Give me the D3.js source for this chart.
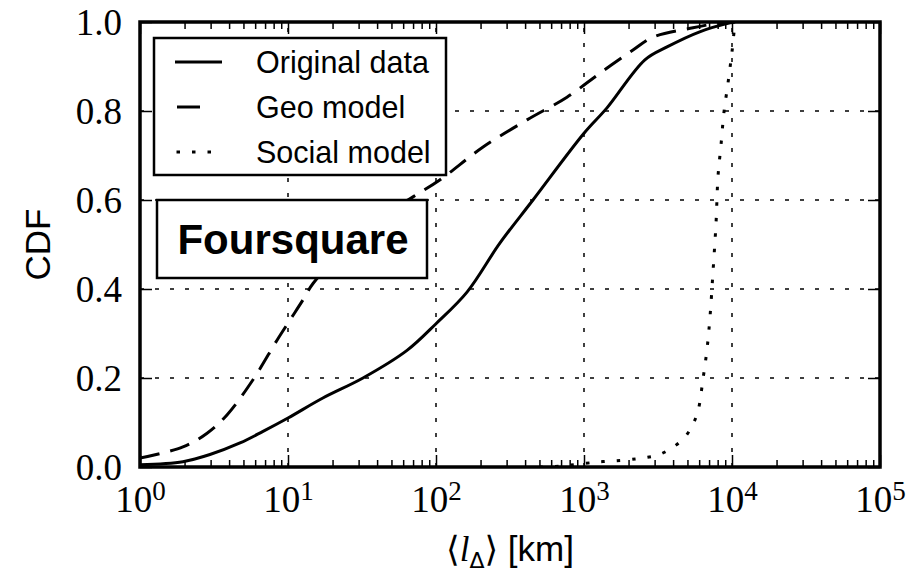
<!DOCTYPE html>
<html>
<head>
    <meta charset="utf-8">
    <title>CDF - Foursquare</title>
    <script src="https://d3js.org/d3.v7.min.js"></script>
    <style>
        body { margin: 0; background: #fff; }
    </style>
</head>
<body>
<div id="chart"></div>
<script>

    // valores: distancia media (km) e CDF
    const seriesNames = ["Original data", "Geo model", "Social model"];

    const originalX = [1, 1.95, 2.97, 4.74, 6.78, 10, 17.2, 32.1, 63.7, 100, 162, 270, 452, 1000, 1430, 2580, 3640, 6050, 9700, 10500];
    const originalY = [0.005, 0.012, 0.028, 0.054, 0.08, 0.11, 0.155, 0.2, 0.262, 0.322, 0.393, 0.503, 0.6, 0.75, 0.807, 0.915, 0.944, 0.978, 0.998, 1.0];

    const geoX = [1, 1.95, 2.84, 3.87, 5.8, 8.43, 10.3, 12.6, 14.8, 26.2, 41.9, 69.9, 106, 208, 412, 767, 1282, 2143, 2925, 5450, 8290, 10000];
    const geoY = [0.02, 0.045, 0.076, 0.117, 0.196, 0.285, 0.33, 0.375, 0.413, 0.5, 0.56, 0.607, 0.645, 0.719, 0.78, 0.831, 0.885, 0.937, 0.966, 0.987, 0.998, 1.0];

    const socialX = [500, 689, 1224, 1953, 2466, 3162, 3935, 4743, 5370, 5894, 6370, 6780, 7100, 7445, 7800, 8040, 8430, 8830, 9400, 10000, 10480, 10650];
    const socialY = [0, 0.002, 0.011, 0.016, 0.02, 0.027, 0.043, 0.065, 0.092, 0.126, 0.198, 0.265, 0.337, 0.44, 0.548, 0.652, 0.724, 0.798, 0.863, 0.933, 0.993, 1.0];

    const xMajor = [1, 10, 100, 1000, 10000, 100000];
    const xExp = ["0", "1", "2", "3", "4", "5"];
    const yMajor = [0, 0.2, 0.4, 0.6, 0.8, 1.0];

    let margin = {top: 22, right: 42, bottom: 105, left: 140};
    let W = 922, H = 572;
    let w = W - margin.left - margin.right;
    let h = H - margin.top - margin.bottom;

    let svg = d3.select("#chart")
        .append("svg")
            .attr("width", W)
            .attr("height", H)
        .append("g")
            .attr("transform", "translate(" + margin.left + "," + margin.top + ")");

    let xScale = d3.scaleLog().domain([1, 1e5]).range([0, w]);
    let yScale = d3.scaleLinear().domain([0, 1]).range([h, 0]);

    // minor ticks 2..9 de cada decada
    let xMinor = [];
    for (let e = 0; e < 5; e++) {
        for (let k = 2; k <= 9; k++) xMinor.push(k * Math.pow(10, e));
    }

    // grade pontilhada
    let grid = svg.append("g")
        .attr("stroke", "#000")
        .attr("stroke-width", 1.5)
        .attr("stroke-dasharray", "4,11");

    grid.selectAll("line.v")
        .data(xMajor.slice(1, -1))
        .enter().append("line")
        .attr("class", "v")
        .attr("x1", d => xScale(d)).attr("x2", d => xScale(d))
        .attr("y1", h).attr("y2", 0);

    grid.selectAll("line.h")
        .data(yMajor.slice(1, -1))
        .enter().append("line")
        .attr("class", "h")
        .attr("x1", 0).attr("x2", w)
        .attr("y1", d => yScale(d)).attr("y2", d => yScale(d));

    // curvas
    svg.append("clipPath").attr("id", "clip")
        .append("rect").attr("width", w).attr("height", h);

    let line = d3.line()
        .x(d => xScale(d[0]))
        .y(d => yScale(d[1]))
        .curve(d3.curveCatmullRom.alpha(0.5));

    let series = [
        {name: seriesNames[0], pts: d3.zip(originalX, originalY), dash: null},
        {name: seriesNames[1], pts: d3.zip(geoX, geoY), dash: "20,11"},
        {name: seriesNames[2], pts: d3.zip(socialX, socialY), dash: "3.5,12"}
    ];

    svg.append("g").attr("clip-path", "url(#clip)")
        .selectAll("path")
        .data(series)
        .enter().append("path")
        .attr("d", d => line(d.pts))
        .attr("fill", "none")
        .attr("stroke", "#000")
        .attr("stroke-width", 3)
        .attr("stroke-dasharray", d => d.dash);

    // eixos com ticks para dentro
    function clean(g) {
        g.select(".domain").remove();
        g.selectAll(".tick line").attr("stroke-width", 1.5);
    }

    svg.append("g")
        .attr("transform", "translate(0," + h + ")")
        .call(d3.axisBottom(xScale).tickValues(xMinor).tickSize(-7).tickFormat(""))
        .call(clean);
    svg.append("g")
        .call(d3.axisTop(xScale).tickValues(xMinor).tickSize(-7).tickFormat(""))
        .call(clean);
    svg.append("g")
        .call(d3.axisTop(xScale).tickValues(xMajor).tickSize(-12).tickFormat(""))
        .call(clean);
    svg.append("g")
        .attr("transform", "translate(" + w + ",0)")
        .call(d3.axisRight(yScale).tickValues(yMajor).tickSize(-12).tickFormat(""))
        .call(clean);

    let xAxisG = svg.append("g")
        .attr("transform", "translate(0," + h + ")")
        .call(d3.axisBottom(xScale).tickValues(xMajor).tickSize(-12).tickFormat(""))
        .call(clean);

    xAxisG.selectAll(".tick text").remove();
    xAxisG.selectAll(".tick").each(function(d, i) {
        let t = d3.select(this).append("text")
            .attr("y", 45)
            .attr("fill", "#000")
            .attr("text-anchor", "middle")
            .attr("font-family", "'Liberation Serif', serif")
            .attr("font-size", "37px");
        t.append("tspan").text("10");
        t.append("tspan").attr("font-size", "27px").attr("dy", -12).text(xExp[i]);
    });

    svg.append("g")
        .call(d3.axisLeft(yScale).tickValues(yMajor).tickSize(-12).tickPadding(18).tickFormat(d3.format(".1f")))
        .call(clean)
        .selectAll(".tick text")
            .attr("font-family", "'Liberation Serif', serif")
            .attr("font-size", "37px")
            .attr("fill", "#000")
            .attr("dy", "0.34em");

    // moldura
    svg.append("rect")
        .attr("width", w).attr("height", h)
        .attr("fill", "none")
        .attr("stroke", "#000")
        .attr("stroke-width", 3.5);

    // titulos dos eixos
    svg.append("text")
        .attr("transform", "rotate(-90)")
        .attr("x", -h / 2)
        .attr("y", -90)
        .attr("text-anchor", "middle")
        .attr("font-family", "'Liberation Sans', sans-serif")
        .attr("font-size", "35px")
        .text("CDF");

    let xl = svg.append("text")
        .attr("x", w / 2)
        .attr("y", h + 94)
        .attr("text-anchor", "middle")
        .attr("font-size", "35px");
    xl.append("tspan").attr("font-family", "'DejaVu Serif', serif").text("\u27E8");
    xl.append("tspan").attr("font-family", "'Liberation Serif', serif").attr("font-style", "italic").text("l");
    xl.append("tspan").attr("font-family", "'DejaVu Sans', sans-serif").attr("font-size", "22px").attr("dy", 7).text("\u0394");
    xl.append("tspan").attr("font-family", "'DejaVu Serif', serif").attr("dy", -7).text("\u27E9");
    xl.append("tspan").attr("font-family", "'Liberation Sans', sans-serif").text(" [km]");

    // caixa "Foursquare"
    svg.append("rect")
        .attr("x", 17).attr("y", 178)
        .attr("width", 270).attr("height", 78)
        .attr("fill", "#fff")
        .attr("stroke", "#000")
        .attr("stroke-width", 2.5);
    svg.append("text")
        .attr("x", 153).attr("y", 217)
        .attr("dy", "0.36em")
        .attr("text-anchor", "middle")
        .attr("font-family", "'Liberation Sans', sans-serif")
        .attr("font-weight", "bold")
        .attr("font-size", "42px")
        .text("Foursquare");

    // legenda
    let legend = svg.append("g").attr("transform", "translate(14,16)");
    legend.append("rect")
        .attr("width", 292).attr("height", 137)
        .attr("fill", "#fff")
        .attr("stroke", "#000")
        .attr("stroke-width", 2.5);

    let sample = [
        {x1: 21, x2: 68, dash: null},
        {x1: 23, x2: 46, dash: null},
        {x1: 22.5, x2: 58, dash: "3.5,12"}
    ];

    let items = legend.selectAll("g.item")
        .data(series)
        .enter().append("g")
        .attr("class", "item")
        .attr("transform", (d, i) => "translate(0," + (24 + i * 45) + ")");

    items.append("line")
        .attr("x1", (d, i) => sample[i].x1)
        .attr("x2", (d, i) => sample[i].x2)
        .attr("stroke", "#000")
        .attr("stroke-width", 3)
        .attr("stroke-dasharray", (d, i) => sample[i].dash);

    items.append("text")
        .attr("x", 102)
        .attr("dy", "0.36em")
        .attr("font-family", "'Liberation Sans', sans-serif")
        .attr("font-size", "30.5px")
        .text(d => d.name);

</script>
</body>
</html>
